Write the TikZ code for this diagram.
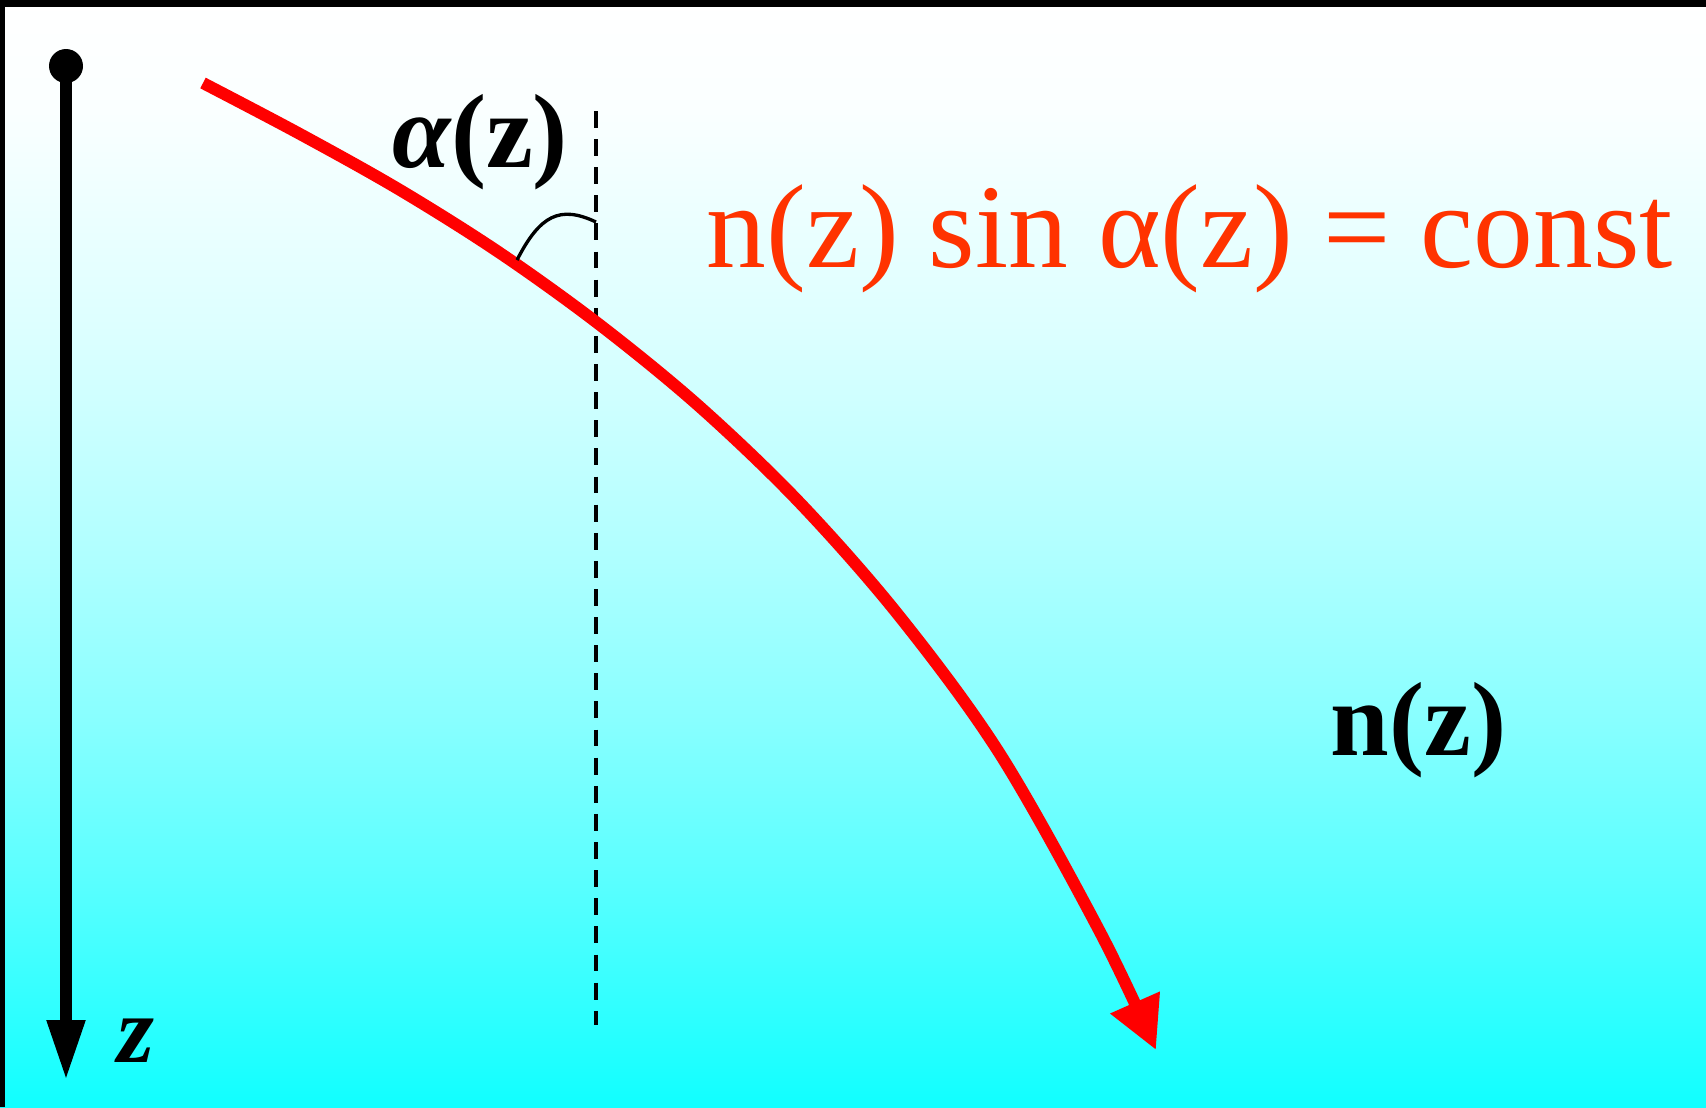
\documentclass[tikz,border=0pt]{standalone}
\usepackage{fontspec}
\setmainfont{Liberation Serif}
\usepackage{xcolor}
\usepackage{tikz}
\usetikzlibrary{arrows.meta,positioning}
\definecolor{ray}{HTML}{FF0000}
\definecolor{lawred}{HTML}{FF3300}
\definecolor{sea0}{RGB}{16,255,255}
\definecolor{sea1}{RGB}{88,255,255}
\definecolor{sea2}{RGB}{136,255,255}
\definecolor{sea3}{RGB}{176,255,255}
\definecolor{sea4}{RGB}{220,255,255}
\definecolor{sea5}{RGB}{250,255,255}
\pgfdeclareverticalshading{seadepth}{100bp}{color(0bp)=(sea0); color(25bp)=(sea0); color(35bp)=(sea1); color(42.5bp)=(sea2); color(50bp)=(sea3); color(60bp)=(sea4); color(70bp)=(sea5); color(75bp)=(white); color(100bp)=(white)}

\begin{document}
\begin{tikzpicture}[lbl/.style={inner sep=0pt,anchor=base west}]
  % background
  \useasboundingbox (0,0) rectangle (17.06,-11.07);
  \shade[shading=seadepth] (0,0) rectangle (17.06,-11.07);
  \fill[black] (0,0) rectangle (17.06,-0.07);
  \fill[black] (0,0) rectangle (0.05,-11.07);
  % depth axis
  \coordinate (axtop) at (0.66,-0.66);
  \coordinate (axend) at (0.66,-10.80);
  \draw[line width=3.2pt,-{Triangle[length=6mm,width=3.6mm]}] (axtop) -- (axend);
  \fill (axtop) circle[radius=0.17];
  \node[lbl,font=\fontsize{27}{32}\selectfont\bfseries\itshape] (zlab) at (1.17,-10.62) {z};
  % normal
  \coordinate (ntop) at (5.96,-1.11);
  \coordinate (nend) at (5.96,-10.25);
  \draw[line width=1.3pt,dash pattern=on 4.8pt off 3.2pt] (ntop) -- (nend);
  % ray
  \draw[ray,line width=3.4pt,-{Triangle[length=5.2mm,width=5.1mm]}] plot[smooth,tension=0.55] coordinates {(2.03,-0.83) (3.00,-1.34) (4.00,-1.90) (5.00,-2.53) (6.00,-3.25) (7.00,-4.07) (8.00,-5.03) (9.00,-6.17) (10.00,-7.54) (11.00,-9.32) (11.56,-10.50)};
  % angle
  \coordinate (angfoot) at (5.17,-2.60);
  \coordinate (angtop) at (5.96,-2.22);
  \draw[line width=0.95pt] (angfoot) .. controls (5.40,-2.15) and (5.60,-2.05) .. (angtop);
  % labels
  \node[lbl,font=\fontsize{30}{36}\selectfont\bfseries] (alab) at (3.92,-1.67) {{\itshape α}(z)};
  \node[lbl,text=lawred,font=\fontsize{34}{40}\selectfont] (law) at (7.06,-2.67) {n(z) sin α(z) = const};
  \node[lbl,font=\fontsize{30}{36}\selectfont\bfseries] (nlab) at (13.30,-7.55) {n(z)};
\end{tikzpicture}
\end{document}
